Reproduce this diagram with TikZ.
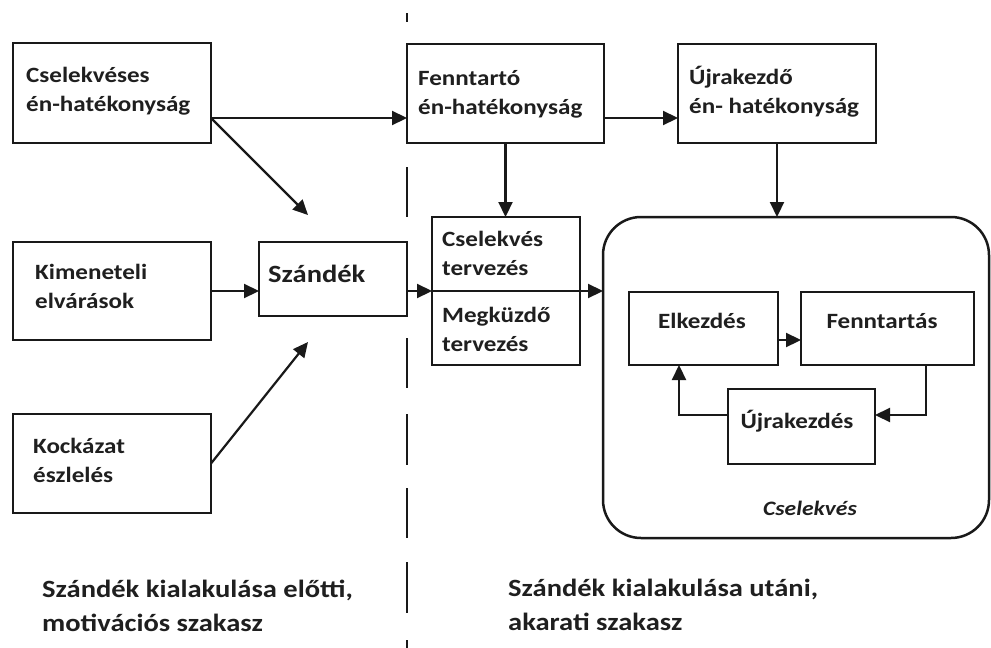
\documentclass[tikz,border=0pt]{standalone}
\usepackage{fontspec}
\setmainfont{Carlito}[FakeStretch=1.15]
\usetikzlibrary{arrows.meta}
% two stacked lines whose baseline is the first line's baseline
\newcommand{\stackedlines}[2]{\vtop{\hbox{#1}\hbox{#2}}}
\begin{document}
\begin{tikzpicture}[x=1pt,y=-1pt,
  box/.style={draw=black!90, line width=2.5pt, inner sep=0pt, outer sep=0pt, rectangle},
  arr/.style={draw=black!90, line width=2.2pt, -{Triangle[length=15pt,width=14pt]}},
  txt/.style={inner sep=0pt, text=black!88, font=\fontsize{21.8}{29.5}\selectfont\bfseries},
  bigtxt/.style={inner sep=0pt, text=black!88, font=\fontsize{24.8}{34}\selectfont\bfseries},
  divider/.style={draw=black!90, line width=2.2pt}
]
\useasboundingbox[fill=white] (0,0) rectangle (991,648);

% phase divider
\foreach \a/\b in {13/22,167/217,338/388,414/465,488/538,562/613,640/648}
  \draw[divider] (407,\a) -- (407,\b);

% boxes
\node[box, minimum width=198pt, minimum height=100pt] (cse) at (112,93) {};
\node[box, minimum width=198pt, minimum height=98pt]  (kim) at (112,291) {};
\node[box, minimum width=198pt, minimum height=99pt]  (koc) at (112,463.5) {};
\node[box, minimum width=148pt, minimum height=74pt]  (szd) at (333,279) {};
\node[box, minimum width=197pt, minimum height=99pt]  (fen) at (505.5,93.5) {};
\node[box, minimum width=198pt, minimum height=99pt]  (ujr) at (777,93.5) {};
\node[box, minimum width=148pt, minimum height=148pt] (plan) at (506,291) {};
\node[box, rounded corners=38pt, minimum width=386pt, minimum height=321pt] (act) at (796,377.5) {};
\node[box, minimum width=149pt, minimum height=73pt]  (elk) at (703.5,328.5) {};
\node[box, minimum width=173pt, minimum height=73pt]  (fnt) at (887.5,328.5) {};
\node[box, minimum width=147pt, minimum height=75pt]  (ujk) at (801.5,426.5) {};
\draw[box] (plan.west) -- (plan.east);

% box texts
\node[txt, anchor=base west] (t-cse) at (26,82) {\stackedlines{Cselekvéses}{én-hatékonyság}};
\node[txt, anchor=base west] (t-kim) at (35,279) {\stackedlines{Kimeneteli}{elvárások}};
\node[txt, anchor=base west] (t-koc) at (33,453) {\stackedlines{Kockázat}{észlelés}};
\node[bigtxt, anchor=base west] (t-szd) at (268,282) {Szándék};
\node[txt, anchor=base west] (t-fen) at (418,85) {\stackedlines{Fenntartó}{én-hatékonyság}};
\node[txt, anchor=base west] (t-ujr) at (689,84) {\stackedlines{Újrakezdő}{én- hatékonyság}};
\node[txt, anchor=base west] (t-pl1) at (442,246) {\stackedlines{Cselekvés}{tervezés}};
\node[txt, anchor=base west] (t-pl2) at (442,322) {\stackedlines{Megküzdő}{tervezés}};
\node[txt, anchor=base] (t-elk) at (702,328) {Elkezdés};
\node[txt, anchor=base] (t-fnt) at (882,328) {Fenntartás};
\node[txt, anchor=base] (t-ujk) at (797,428) {Újrakezdés};
\node[txt, anchor=base, font=\fontsize{20.5}{24}\selectfont\bfseries\itshape] (t-act) at (810,515) {Cselekvés};

% phase captions
\node[bigtxt, anchor=base west] (cap-l) at (42,597) {\stackedlines{Szándék kialakulása előtti,}{motivációs szakasz}};
\node[bigtxt, anchor=base west] (cap-r) at (508,596) {\stackedlines{Szándék kialakulása utáni,}{akarati szakasz}};

% connectors
\coordinate (c1) at ([yshift=-25pt]cse.east);
\coordinate (d1) at (308,215);
\coordinate (d2) at (308,342);
\draw[arr] (c1) -- (c1 -| fen.west);
\draw[arr] (c1) -- (d1);
\draw[arr] (kim.east) -- (kim.east -| szd.west);
\draw[arr] (koc.east) -- (d2);
\draw[arr] (plan.west -| szd.east) -- (plan.west);
\draw[arr] (plan.east) -- (plan.east -| act.west);
\draw[arr] ([yshift=-24.5pt]fen.east) -- ([yshift=-24.5pt]fen.east -| ujr.west);
\draw[arr] (fen.south) -- (fen.south |- plan.north);
\draw[arr] (ujr.south) -- (ujr.south |- act.north);
\draw[arr] ([yshift=-11.5pt]elk.east) -- ([yshift=-11.5pt]elk.east -| fnt.west);
\draw[arr] ([xshift=38.5pt]fnt.south) |- ([yshift=11.5pt]ujk.east);
\draw[arr] ([yshift=11.5pt]ujk.west) -| ([xshift=-24.5pt]elk.south);
\end{tikzpicture}
\end{document}
